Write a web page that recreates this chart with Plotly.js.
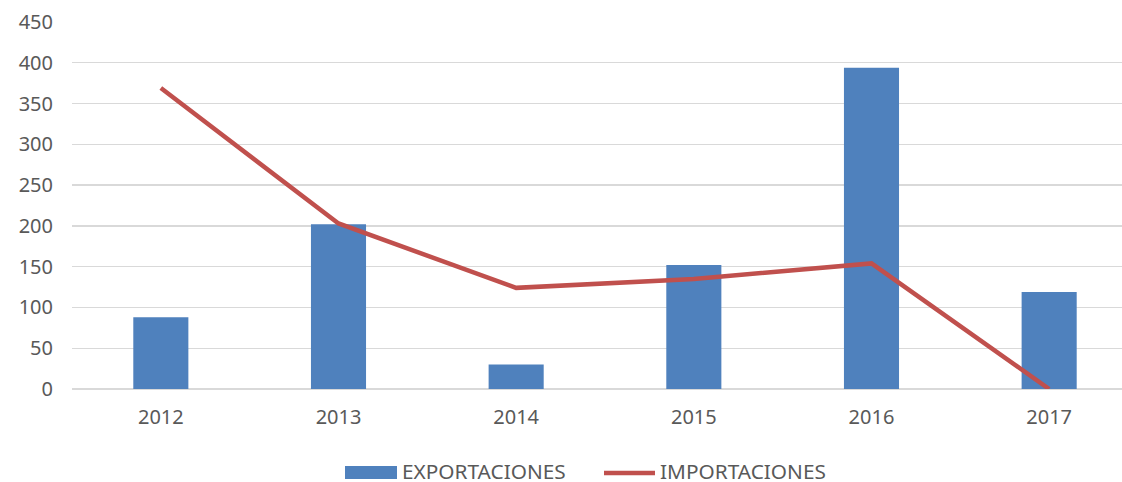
<!DOCTYPE html>
<html>
<head>
<meta charset="utf-8">
<script src="https://cdn.plot.ly/plotly-3.0.1.min.js"></script>
<style>html,body{margin:0;padding:0;background:#fff;}#chart{width:1122px;height:482px;}</style>
</head>
<body>
<div id="chart"></div>
<script>
const years = ['2012', '2013', '2014', '2015', '2016', '2017'];
const exportaciones = [88, 202, 30, 152, 394, 119];
const importaciones = [369, 203, 124, 135, 154, 0];
const seriesNames = ['EXPORTACIONES', 'IMPORTACIONES'];
const yTicks = [0, 50, 100, 150, 200, 250, 300, 350, 400, 450];

const W = 1122, H = 482;
const mL = 72, mR = 0, mT = 22, mB = 93;
const plotW = W - mL - mR, plotH = H - mT - mB;
const px = x => (x - mL) / plotW;
const py = y => (H - mB - y) / plotH;

const FONT = 'Noto Sans, sans-serif';
const TXT = '#595959';

const traces = [
  {
    type: 'bar', x: years, y: exportaciones, name: seriesNames[0],
    marker: {color: '#4F81BD'}, width: 0.31, showlegend: false
  },
  {
    type: 'scatter', mode: 'lines', x: years, y: importaciones, name: seriesNames[1],
    line: {color: '#C0504D', width: 4.5}, showlegend: false
  }
];

const layout = {
  width: W, height: H,
  margin: {l: mL, r: mR, t: mT, b: mB, pad: 0},
  paper_bgcolor: '#ffffff', plot_bgcolor: '#ffffff',
  font: {family: FONT, size: 20, color: TXT},
  showlegend: false,
  xaxis: {
    type: 'category', range: [-0.5, 5.41], showgrid: false, zeroline: false,
    showline: false, ticks: '', ticklabelstandoff: 14,
    tickfont: {family: FONT, size: 20, color: TXT}, fixedrange: true
  },
  yaxis: {
    range: [0, 450], tickvals: yTicks, ticktext: yTicks.map(String),
    showgrid: true, gridcolor: '#D9D9D9', gridwidth: 1.3,
    zeroline: true, zerolinecolor: '#D9D9D9', zerolinewidth: 1.3,
    showline: false, ticks: '', ticklabelstandoff: 18,
    tickfont: {family: FONT, size: 20, color: TXT}, fixedrange: true
  },
  shapes: [
    {type: 'rect', xref: 'paper', yref: 'paper', x0: px(345), x1: px(397), y0: py(479), y1: py(466),
     fillcolor: '#4F81BD', line: {width: 0}},
    {type: 'line', xref: 'paper', yref: 'paper', x0: px(604), x1: px(655), y0: py(473), y1: py(473),
     line: {color: '#C0504D', width: 4.5}}
  ],
  annotations: [
    {xref: 'paper', yref: 'paper', x: px(401), y: py(471), xanchor: 'left', yanchor: 'middle',
     text: seriesNames[0], showarrow: false, borderpad: 0, font: {family: FONT, size: 20.8, color: TXT}},
    {xref: 'paper', yref: 'paper', x: px(659), y: py(471), xanchor: 'left', yanchor: 'middle',
     text: seriesNames[1], showarrow: false, borderpad: 0, font: {family: FONT, size: 20.8, color: TXT}}
  ]
};

Plotly.newPlot('chart', traces, layout, {displayModeBar: false, staticPlot: true});
</script>
</body>
</html>
